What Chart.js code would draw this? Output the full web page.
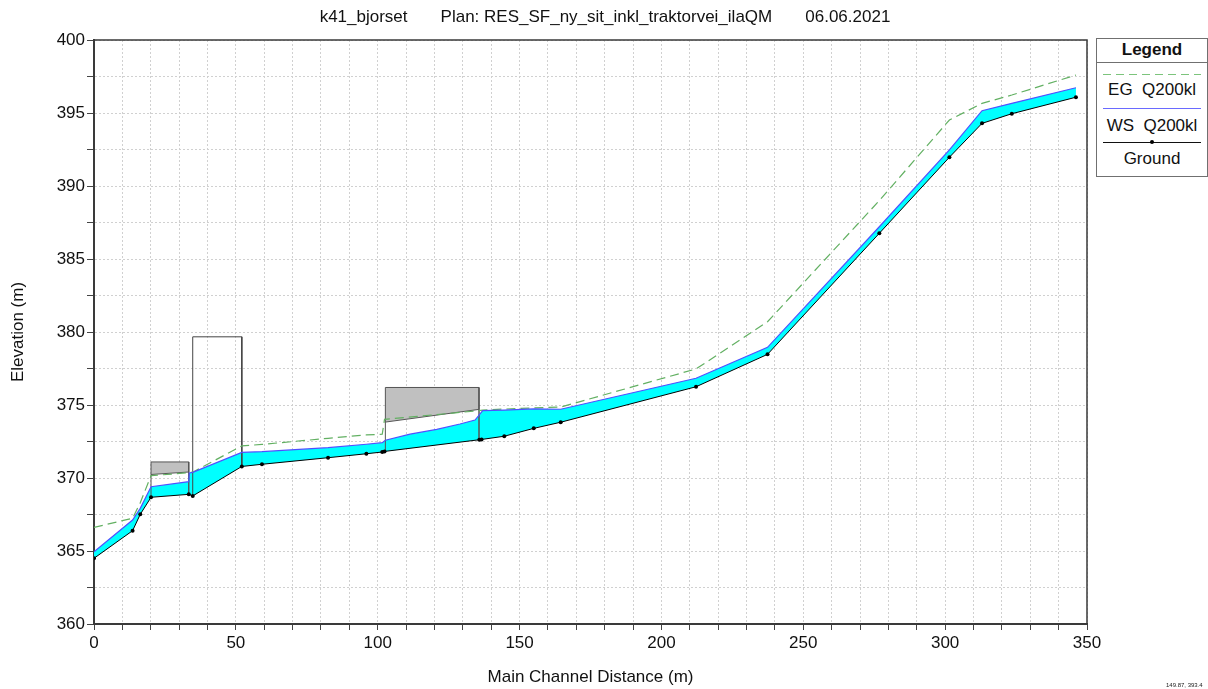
<!DOCTYPE html>
<html>
<head>
<meta charset="utf-8">
<script src="https://cdn.jsdelivr.net/npm/chart.js@4.4.1/dist/chart.umd.min.js"></script>
<style>
  body { margin: 0; background: #fff; font-family: "Liberation Sans", Arial, sans-serif; }
  #wrap { position: relative; width: 1208px; height: 689px; }
  #title { position: absolute; left: 0; top: 7px; width: 1210px; text-align: center; font-size: 17px; color: #111; white-space: pre; }
  #legend { position: absolute; left: 1096px; top: 38px; width: 110px; height: 137px; border: 1px solid #707070; background: #fff; color: #111; font-size: 17px; }
  #legend div { position: absolute; left: 0; width: 110px; text-align: center; }
  #legend .head { top: 0; height: 23px; line-height: 22px; font-weight: bold; border-bottom: 1px solid #707070; }
  #legend .sample { left: 6px; width: 98px; height: 1px; }
  #legend .lbl { height: 20px; line-height: 20px; }
  #coord { position: absolute; left: 1166px; top: 682px; font-size: 6px; color: #222; }
</style>
</head>
<body>
<div id="wrap">
  <canvas id="profileChart" width="1208" height="689"></canvas>
  <div id="title">k41_bjorset       Plan: RES_SF_ny_sit_inkl_traktorvei_ilaQM       06.06.2021</div>
  <div id="legend">
    <div class="head">Legend</div>
    <div class="sample" style="top: 35px; background: repeating-linear-gradient(90deg, #7cc47c 0 8px, transparent 8px 13px);"></div>
    <div class="lbl" style="top: 41px;">EG&nbsp; Q200kl</div>
    <div class="sample" style="top: 69px; background: #6a6aff;"></div>
    <div class="lbl" style="top: 77px;">WS&nbsp; Q200kl</div>
    <div class="sample" style="top: 103px; background: #111;"><span style="position:absolute; left:47px; top:-2px; width:4px; height:4px; background:#000; border-radius:2px;"></span></div>
    <div class="lbl" style="top: 110px;">Ground</div>
  </div>
  <div id="coord">149.87, 393.4</div>
</div>
<script>
// cross sections (main channel distance, m) and ground elevation (m)
const groundX = [0, 13.6, 16.3, 20.1, 33.4, 34.8, 52.1, 59.2, 82.5, 96.0, 101.6, 102.4, 135.8, 136.6, 144.6, 155.0, 164.5, 212.2, 237.4, 276.8, 301.5, 313.0, 323.5, 346.1];
const groundY = [364.5, 366.39, 367.51, 368.68, 368.88, 368.77, 370.79, 370.94, 371.39, 371.66, 371.78, 371.82, 372.62, 372.64, 372.86, 373.4, 373.82, 376.25, 378.47, 386.76, 391.97, 394.29, 394.95, 396.08];

// water surface Q200kl
const wsX = [0, 13.6, 16.3, 20.1, 33.4, 33.6, 34.8, 52.1, 59.2, 82.5, 96.0, 101.6, 102.7, 111.4, 120.8, 129.0, 134.3, 135.8, 137.0, 144.6, 155.0, 164.5, 212.2, 237.4, 276.8, 301.5, 313.0, 323.5, 346.1];
const wsY = [364.95, 367.12, 367.92, 369.4, 369.75, 370.35, 370.39, 371.75, 371.8, 372.08, 372.31, 372.42, 372.59, 373.0, 373.33, 373.7, 373.97, 374.32, 374.61, 374.65, 374.73, 374.71, 376.83, 378.95, 387.21, 392.47, 395.16, 395.66, 396.73];

// energy grade line Q200kl
const egX = [0, 13.6, 16.3, 20.1, 33.4, 34.8, 52.1, 59.2, 82.5, 96.0, 101.6, 102.4, 135.7, 137.0, 144.6, 155.0, 164.5, 212.2, 237.4, 276.8, 301.5, 313.0, 323.5, 346.1];
const egY = [366.62, 367.24, 368.3, 370.16, 370.36, 370.4, 372.2, 372.3, 372.72, 372.95, 373.0, 374.02, 374.61, 374.65, 374.72, 374.8, 374.86, 377.47, 380.7, 389.0, 394.52, 395.66, 396.23, 397.6];

// structures: deck top and low chord, sides go down to ground
const deck1X = [20.1, 33.4];
const deck1Top = 371.1;
const deck1Low = [370.24, 370.41];
const deck1Ground = [368.68, 368.88];

const deck2X = [102.7, 135.7];
const deck2Top = 376.2;
const deck2Low = [373.83, 374.7];
const deck2Ground = [371.83, 372.62];

const openX = [34.8, 52.1];
const openTop = 379.67;
const openGround = [368.77, 370.79];

const pts = (xs, ys) => xs.map((x, i) => ({x: x, y: ys[i]}));

// cyan area between water surface and ground
const wetArea = pts(wsX, wsY).concat(pts(groundX, groundY).reverse());

function deckShape(xs, top, low, ground) {
    return [
        {x: xs[0], y: ground[0]},
        {x: xs[0], y: top},
        {x: xs[1], y: top},
        {x: xs[1], y: ground[1]},
        {x: xs[1], y: low[1]},
        {x: xs[0], y: low[0]}
    ];
}

const frame = {
    id: 'frame',
    beforeDatasetsDraw(chart) {
        const a = chart.chartArea;
        const ctx = chart.ctx;
        ctx.save();
        ctx.strokeStyle = '#3a3a3a';
        ctx.lineWidth = 1.5;
        ctx.beginPath();
        ctx.moveTo(a.left, a.top);
        ctx.lineTo(a.right, a.top);
        ctx.lineTo(a.right, a.bottom);
        ctx.stroke();
        ctx.restore();
    }
};

const fontFamily = '"Liberation Sans", Arial, sans-serif';

new Chart(document.getElementById('profileChart').getContext('2d'), {
    type: 'scatter',
    data: {
        datasets: [
            {
                label: 'Ground',
                data: pts(groundX, groundY),
                showLine: true,
                borderColor: '#000',
                borderWidth: 1,
                pointRadius: 2,
                pointBackgroundColor: '#000',
                pointBorderWidth: 0,
                order: 1
            },
            {
                label: 'WS  Q200kl',
                data: pts(wsX, wsY),
                showLine: true,
                borderColor: '#5050ff',
                borderWidth: 1.2,
                pointRadius: 0,
                order: 2
            },
            {
                label: 'EG  Q200kl',
                data: pts(egX, egY),
                showLine: true,
                borderColor: '#62b062',
                borderWidth: 1.2,
                borderDash: [9, 5],
                pointRadius: 0,
                order: 3
            },
            {
                label: 'open',
                data: [
                    {x: openX[0], y: openGround[0]},
                    {x: openX[0], y: openTop},
                    {x: openX[1], y: openTop},
                    {x: openX[1], y: openGround[1]}
                ],
                showLine: true,
                borderColor: '#444',
                borderWidth: 1,
                pointRadius: 0,
                order: 4
            },
            {
                label: 'deck2',
                data: deckShape(deck2X, deck2Top, deck2Low, deck2Ground),
                showLine: true,
                fill: 'shape',
                backgroundColor: '#c0c0c0',
                borderColor: '#555',
                borderWidth: 1,
                pointRadius: 0,
                order: 5
            },
            {
                label: 'deck1',
                data: deckShape(deck1X, deck1Top, deck1Low, deck1Ground),
                showLine: true,
                fill: 'shape',
                backgroundColor: '#c0c0c0',
                borderColor: '#555',
                borderWidth: 1,
                pointRadius: 0,
                order: 6
            },
            {
                label: 'wet',
                data: wetArea,
                showLine: true,
                fill: 'shape',
                backgroundColor: '#00ffff',
                borderWidth: 0,
                borderColor: 'rgba(0,0,0,0)',
                pointRadius: 0,
                order: 7
            }
        ]
    },
    options: {
        responsive: false,
        animation: false,
        layout: {
            padding: {left: 0, right: 121, top: 40, bottom: 0}
        },
        plugins: {
            legend: {display: false},
            tooltip: {enabled: false}
        },
        scales: {
            x: {
                type: 'linear',
                min: 0,
                max: 350,
                afterFit: function(scale) { scale.height = 65; },
                ticks: {
                    stepSize: 10,
                    autoSkip: false,
                    maxRotation: 0,
                    padding: 3,
                    color: '#111',
                    font: {family: fontFamily, size: 17},
                    callback: function(value) {
                        return value % 50 === 0 ? value : '';
                    }
                },
                grid: {
                    color: '#d0d0d0',
                    tickColor: '#444',
                    tickLength: 6
                },
                border: {color: '#3a3a3a', width: 2, dash: [2, 2]},
                title: {
                    display: true,
                    text: 'Main Channel Distance (m)',
                    color: '#111',
                    font: {family: fontFamily, size: 17},
                    padding: {top: 0, bottom: 1}
                }
            },
            y: {
                min: 360,
                max: 400,
                afterFit: function(scale) { scale.width = 94; },
                ticks: {
                    stepSize: 2.5,
                    autoSkip: false,
                    padding: 2,
                    color: '#111',
                    font: {family: fontFamily, size: 17},
                    callback: function(value) {
                        return value % 5 === 0 ? value : '';
                    }
                },
                grid: {
                    color: '#d0d0d0',
                    tickColor: '#444',
                    tickLength: 7
                },
                border: {color: '#3a3a3a', width: 2, dash: [2, 2]},
                title: {
                    display: true,
                    text: 'Elevation (m)',
                    color: '#111',
                    font: {family: fontFamily, size: 17},
                    padding: {top: 8, bottom: 0}
                }
            }
        }
    },
    plugins: [frame]
});
</script>
</body>
</html>
